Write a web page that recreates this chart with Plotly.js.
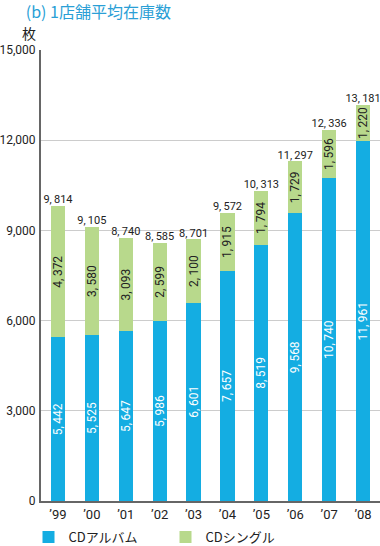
<!DOCTYPE html>
<html><head><meta charset="utf-8">
<script src="https://cdn.plot.ly/plotly-3.0.1.min.js"></script>
<style>html,body{margin:0;padding:0;background:#fff}#c{width:380px;height:546px}</style>
</head><body><div id="c"></div>
<script>
const years = ["’99","’00","’01","’02","’03","’04","’05","’06","’07","’08"];
const album = [5442,5525,5647,5986,6601,7657,8519,9568,10740,11961];
const single = [4372,3580,3093,2599,2100,1915,1794,1729,1596,1220];
const totals = [9814,9105,8740,8585,8701,9572,10313,11297,12336,13181];
const yTicks = [0,3000,6000,9000,12000,15000];

const FONT = '"Liberation Sans Narrow","Roboto",sans-serif';
const JP = '"Noto Sans CJK JP",sans-serif';
const fmt = (v, sep) => v >= 1000 ? Math.floor(v/1000) + sep + String(v%1000).padStart(3,"0") : String(v);
const lab = v => fmt(v, ",\u2009");

const traces = [
  {type:'bar', name:'CDアルバム', x:years, y:album, marker:{color:'#14ade2'},
   text:album.map(lab), textposition:'inside', insidetextanchor:'middle', textangle:-90,
   textfont:{color:'#ffffff', size:12, family:FONT}, constraintext:'none', width:0.42, hoverinfo:'none'},
  {type:'bar', name:'CDシングル', x:years, y:single, marker:{color:'#b8d98c'},
   text:single.map(lab), textposition:'inside', insidetextanchor:'middle', textangle:-90,
   textfont:{color:'#222222', size:12, family:FONT}, constraintext:'none', width:0.42, hoverinfo:'none'},
  {type:'scatter', mode:'text', x:years, y:totals, text:totals.map(lab), textposition:'top center',
   textfont:{color:'#222222', size:11, family:FONT}, showlegend:false, cliponaxis:false, hoverinfo:'none'}
];

const layout = {
  width:380, height:546,
  margin:{l:41, r:0, t:50, b:45},
  barmode:'stack',
  paper_bgcolor:'#fff', plot_bgcolor:'#fff',
  font:{family:FONT, color:'#222', size:12},
  title:{text:'(b) 1店舗平均在庫数', x:0.068, xanchor:'left', xref:'container', y:1 - 12/546, yanchor:'middle', yref:'container',
         font:{family:JP, size:16, color:'#2a9fd6'}},
  xaxis:{type:'category', showline:true, linecolor:'#666', linewidth:2, ticks:'', showgrid:false,
         tickfont:{size:13, family:FONT, color:'#222'}, range:[-0.5,9.5], automargin:false},
  yaxis:{range:[0,15000], tickvals:yTicks, ticktext:yTicks.map(v => fmt(v, ",")), showline:true, linecolor:'#666', linewidth:2,
         gridcolor:'#cccccc', gridwidth:1, ticks:'', ticklabelstandoff:1, tickfont:{size:12, family:FONT, color:'#222'},
         zeroline:false, automargin:false},
  showlegend:true,
  legend:{orientation:'h', x:0.075, xref:'container', xanchor:'left', y:9/546, yref:'container', yanchor:'middle',
          entrywidth:92, font:{size:13, family:JP, color:'#222'}, traceorder:'normal'},
  annotations:[{text:'枚', xref:'paper', yref:'paper', x:-0.035, y:1, xanchor:'center', yanchor:'bottom', yshift:5,
                showarrow:false, font:{family:JP, size:14, color:'#222'}}]
};
Plotly.newPlot('c', traces, layout, {displayModeBar:false, staticPlot:true});
</script></body></html>
